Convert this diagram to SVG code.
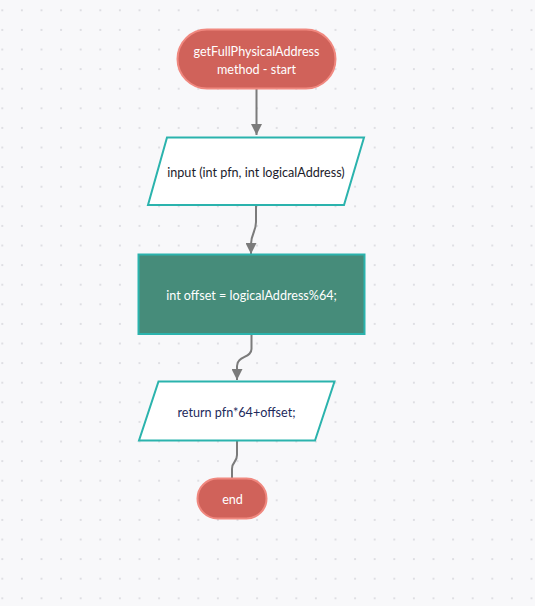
<svg xmlns="http://www.w3.org/2000/svg" width="535" height="606" viewBox="0 0 535 606">
<defs>
<pattern id="dots" x="2.3" y="10.3" width="19.6" height="19.6" patternUnits="userSpaceOnUse">
<circle cx="0" cy="0" r="1.1" fill="#d9d9de"/>
<circle cx="19.6" cy="0" r="1.1" fill="#d9d9de"/>
<circle cx="0" cy="19.6" r="1.1" fill="#d9d9de"/>
<circle cx="19.6" cy="19.6" r="1.1" fill="#d9d9de"/>
</pattern>
<marker id="arr" viewBox="0 0 10 10" refX="10" refY="5" markerWidth="5.5" markerHeight="5.5" orient="auto" markerUnits="strokeWidth">
<path d="M0,0 L10,5 L0,10 z" fill="#7b7b7b"/>
</marker>
<style>
.term{fill:#d0625a;stroke:#f0887f;stroke-width:2}
.io{fill:#ffffff;stroke:#2bb3ad;stroke-width:2}
.proc{fill:#468c7a;stroke:#2bb3ad;stroke-width:2}
.t{font-family:Lato,"Open Sans",sans-serif;font-size:12.6px;text-anchor:middle;dominant-baseline:central}
.w{fill:#ffffff}
.d{fill:#1b1b2b}
.n{fill:#1d2a5c}
.c{fill:none;stroke:#7b7b7b;stroke-width:2}
</style>
</defs>
<rect width="535" height="606" fill="#f8f8fa"/>
<rect width="535" height="606" fill="url(#dots)"/>
<g id="connectors">
<path class="c" d="M256.5,88 L256.5,135" marker-end="url(#arr)"/>
<path class="c" d="M256,205 L256,222 C256,232 251,234 251,244 L251,254" marker-end="url(#arr)"/>
<path class="c" d="M251.5,334 L251.5,349 C251.5,358 237,356 237,366 L237,380" marker-end="url(#arr)"/>
<path class="c" d="M237,441 L237,455 C237,463 232,461 232,469 L232,478"/>
</g>
<g id="start">
<rect class="term" x="177.5" y="29.5" width="158" height="59" rx="29.5"/>
<text class="t w" x="256.5" y="51.5">getFullPhysicalAddress</text>
<text class="t w" x="256.5" y="69">method - start</text>
</g>
<g id="input">
<polygon class="io" points="167,137.5 364,137.5 344,205 148,205"/>
<text class="t d" x="256" y="172.5">input (int pfn, int logicalAddress)</text>
</g>
<g id="offset">
<rect class="proc" x="138.5" y="254.5" width="226" height="79.5"/>
<text class="t w" x="251.5" y="295">int offset = logicalAddress%64;</text>
</g>
<g id="return">
<polygon class="io" points="158.5,381.5 334.5,381.5 315,440.5 139,440.5"/>
<text class="t n" x="236.5" y="412.5">return pfn*64+offset;</text>
</g>
<g id="end">
<rect class="term" x="197.5" y="478.5" width="69" height="40" rx="20"/>
<text class="t w" x="232.5" y="499">end</text>
</g>
</svg>
